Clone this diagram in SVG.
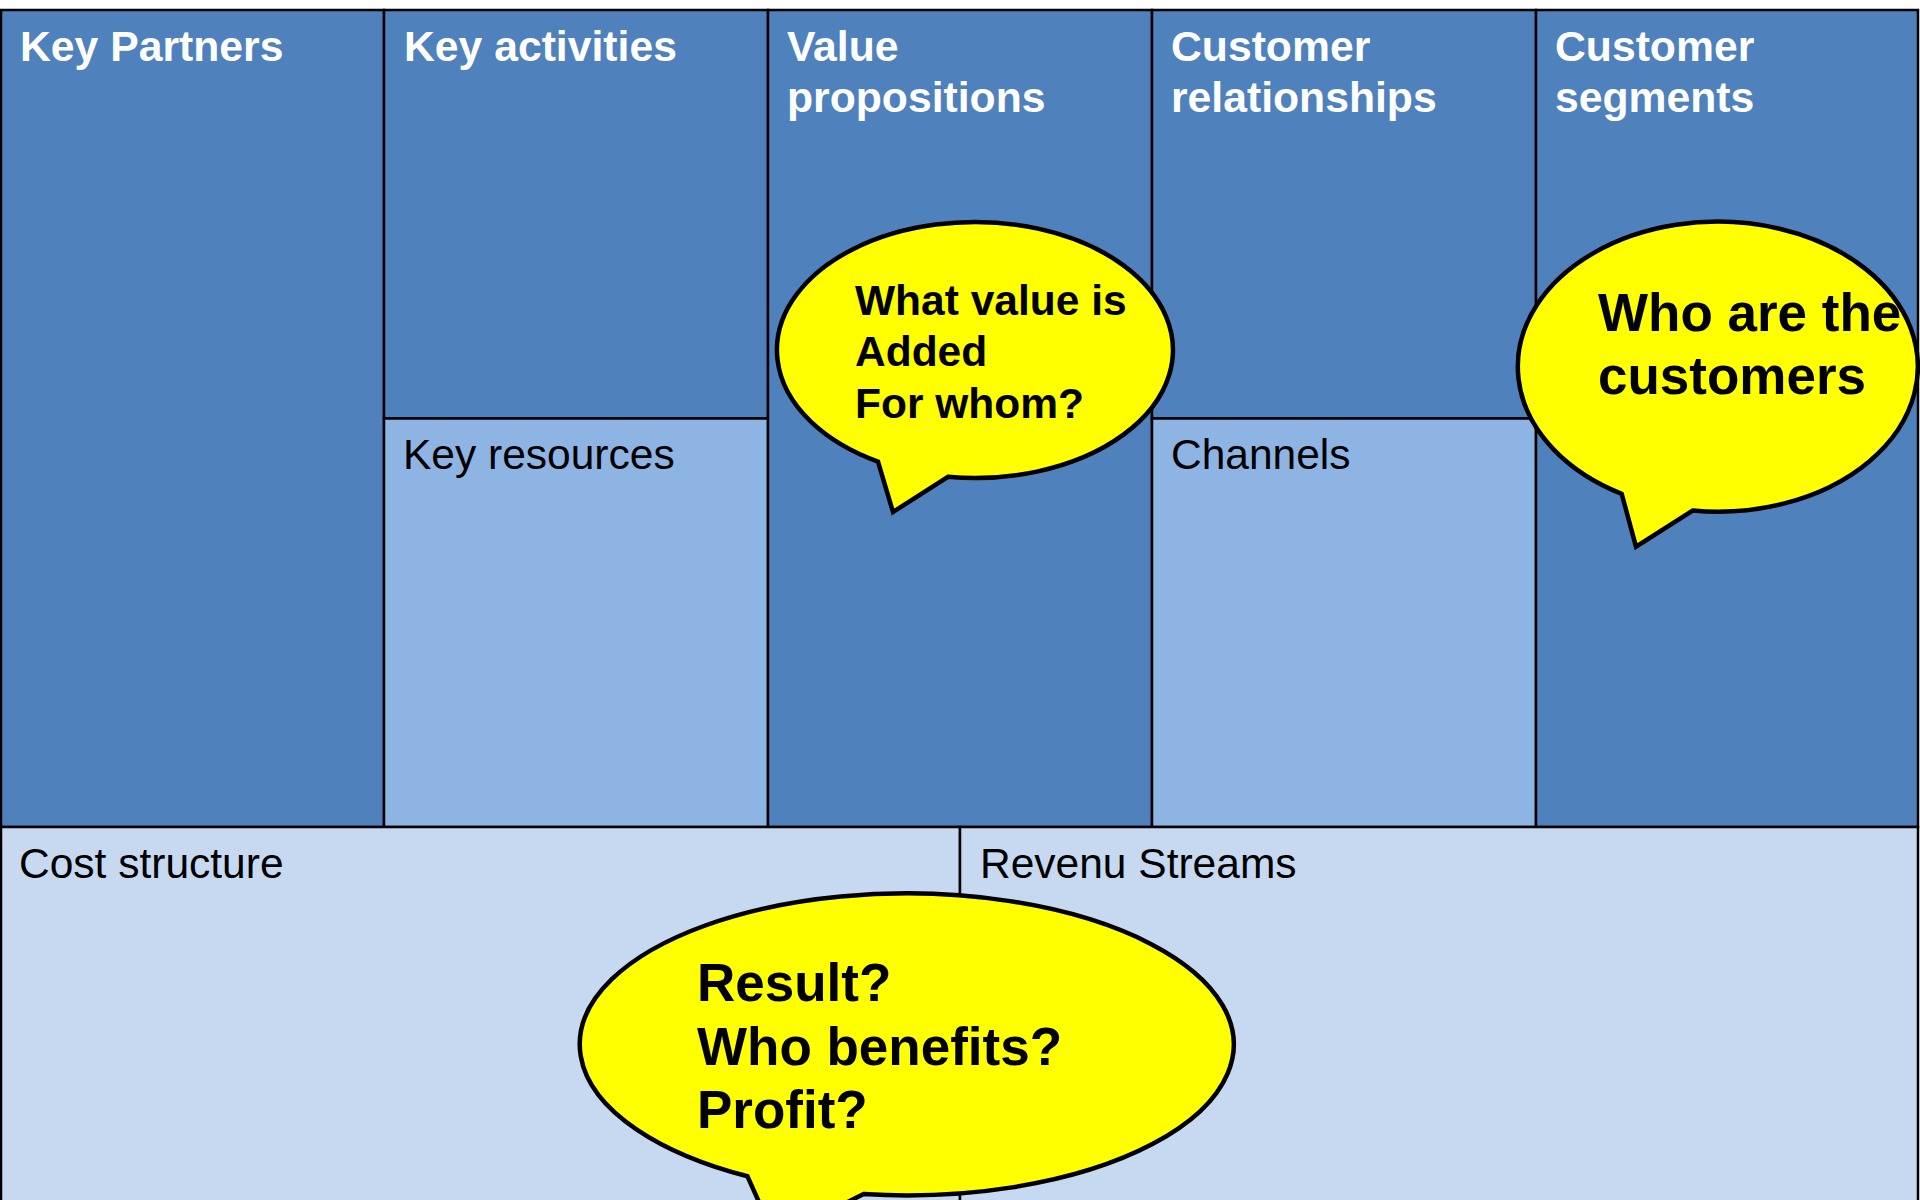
<svg xmlns="http://www.w3.org/2000/svg" width="1920" height="1200" viewBox="0 0 1920 1200">
<style>
.cell{stroke:#000;stroke-width:2.5}
.dark{fill:#4F81BD}
.mid{fill:#8EB4E3}
.light{fill:#C6D9F1}
.hd{font-family:"Liberation Sans",Arial,sans-serif;font-size:42.7px;font-weight:bold;fill:#fff}
.lb{font-family:"Liberation Sans",Arial,sans-serif;font-size:42.5px;fill:#000}
.bub{fill:#FFFF00;stroke:#000;stroke-width:4.5;stroke-linejoin:miter}
.bt{font-family:"Liberation Sans",Arial,sans-serif;font-weight:bold;fill:#000}
</style>
<rect width="1920" height="1200" fill="#fff"/>
<g id="key-partners">
<rect class="cell dark" x="1" y="10" width="383" height="817"/>
<text class="hd" x="20" y="61">Key Partners</text>
</g>
<g id="key-activities">
<rect class="cell dark" x="384" y="10" width="384" height="408.5"/>
<text class="hd" x="404" y="61">Key activities</text>
</g>
<g id="key-resources">
<rect class="cell mid" x="384" y="418.5" width="384" height="408.5"/>
<text class="lb" x="403" y="469">Key resources</text>
</g>
<g id="value-propositions">
<rect class="cell dark" x="768" y="10" width="384" height="817"/>
<text class="hd" x="787" y="61">Value</text>
<text class="hd" x="787" y="112">propositions</text>
</g>
<g id="customer-relationships">
<rect class="cell dark" x="1152" y="10" width="384" height="408.5"/>
<text class="hd" x="1171" y="61">Customer</text>
<text class="hd" x="1171" y="112">relationships</text>
</g>
<g id="channels">
<rect class="cell mid" x="1152" y="418.5" width="384" height="408.5"/>
<text class="lb" x="1171" y="469">Channels</text>
</g>
<g id="customer-segments">
<rect class="cell dark" x="1536" y="10" width="382" height="817"/>
<text class="hd" x="1555" y="61">Customer</text>
<text class="hd" x="1555" y="112">segments</text>
</g>
<g id="cost-structure">
<rect class="cell light" x="1" y="827" width="959" height="400"/>
<text class="lb" x="19" y="878">Cost structure</text>
</g>
<g id="revenue-streams">
<rect class="cell light" x="960" y="827" width="958" height="400"/>
<text class="lb" x="980" y="878">Revenu Streams</text>
</g>
<g id="connectors"></g>
<g id="bubble-value">
<path class="bub" d="M878,461.6 L893,512 L948,476.8 A198,128 0 1 0 878,461.6 Z"/>
<text class="bt" font-size="42.5" x="855" y="315">What value is</text>
<text class="bt" font-size="42.5" x="855" y="366">Added</text>
<text class="bt" font-size="42.5" x="855" y="418">For whom?</text>
</g>
<g id="bubble-customers">
<path class="bub" d="M1621.7,493.8 L1636,546.7 L1692.7,510.5 A200,145 0 1 0 1621.7,493.8 Z"/>
<text class="bt" font-size="53" x="1598" y="331">Who are the</text>
<text class="bt" font-size="53" x="1598" y="394">customers</text>
</g>
<g id="bubble-result">
<path class="bub" d="M747.5,1176.3 L775,1238 L863.6,1194.1 A327,151 0 1 0 747.5,1176.3 Z"/>
<text class="bt" font-size="53" x="697" y="1001">Result?</text>
<text class="bt" font-size="53" x="697" y="1065">Who benefits?</text>
<text class="bt" font-size="53" x="697" y="1128">Profit?</text>
</g>
</svg>
